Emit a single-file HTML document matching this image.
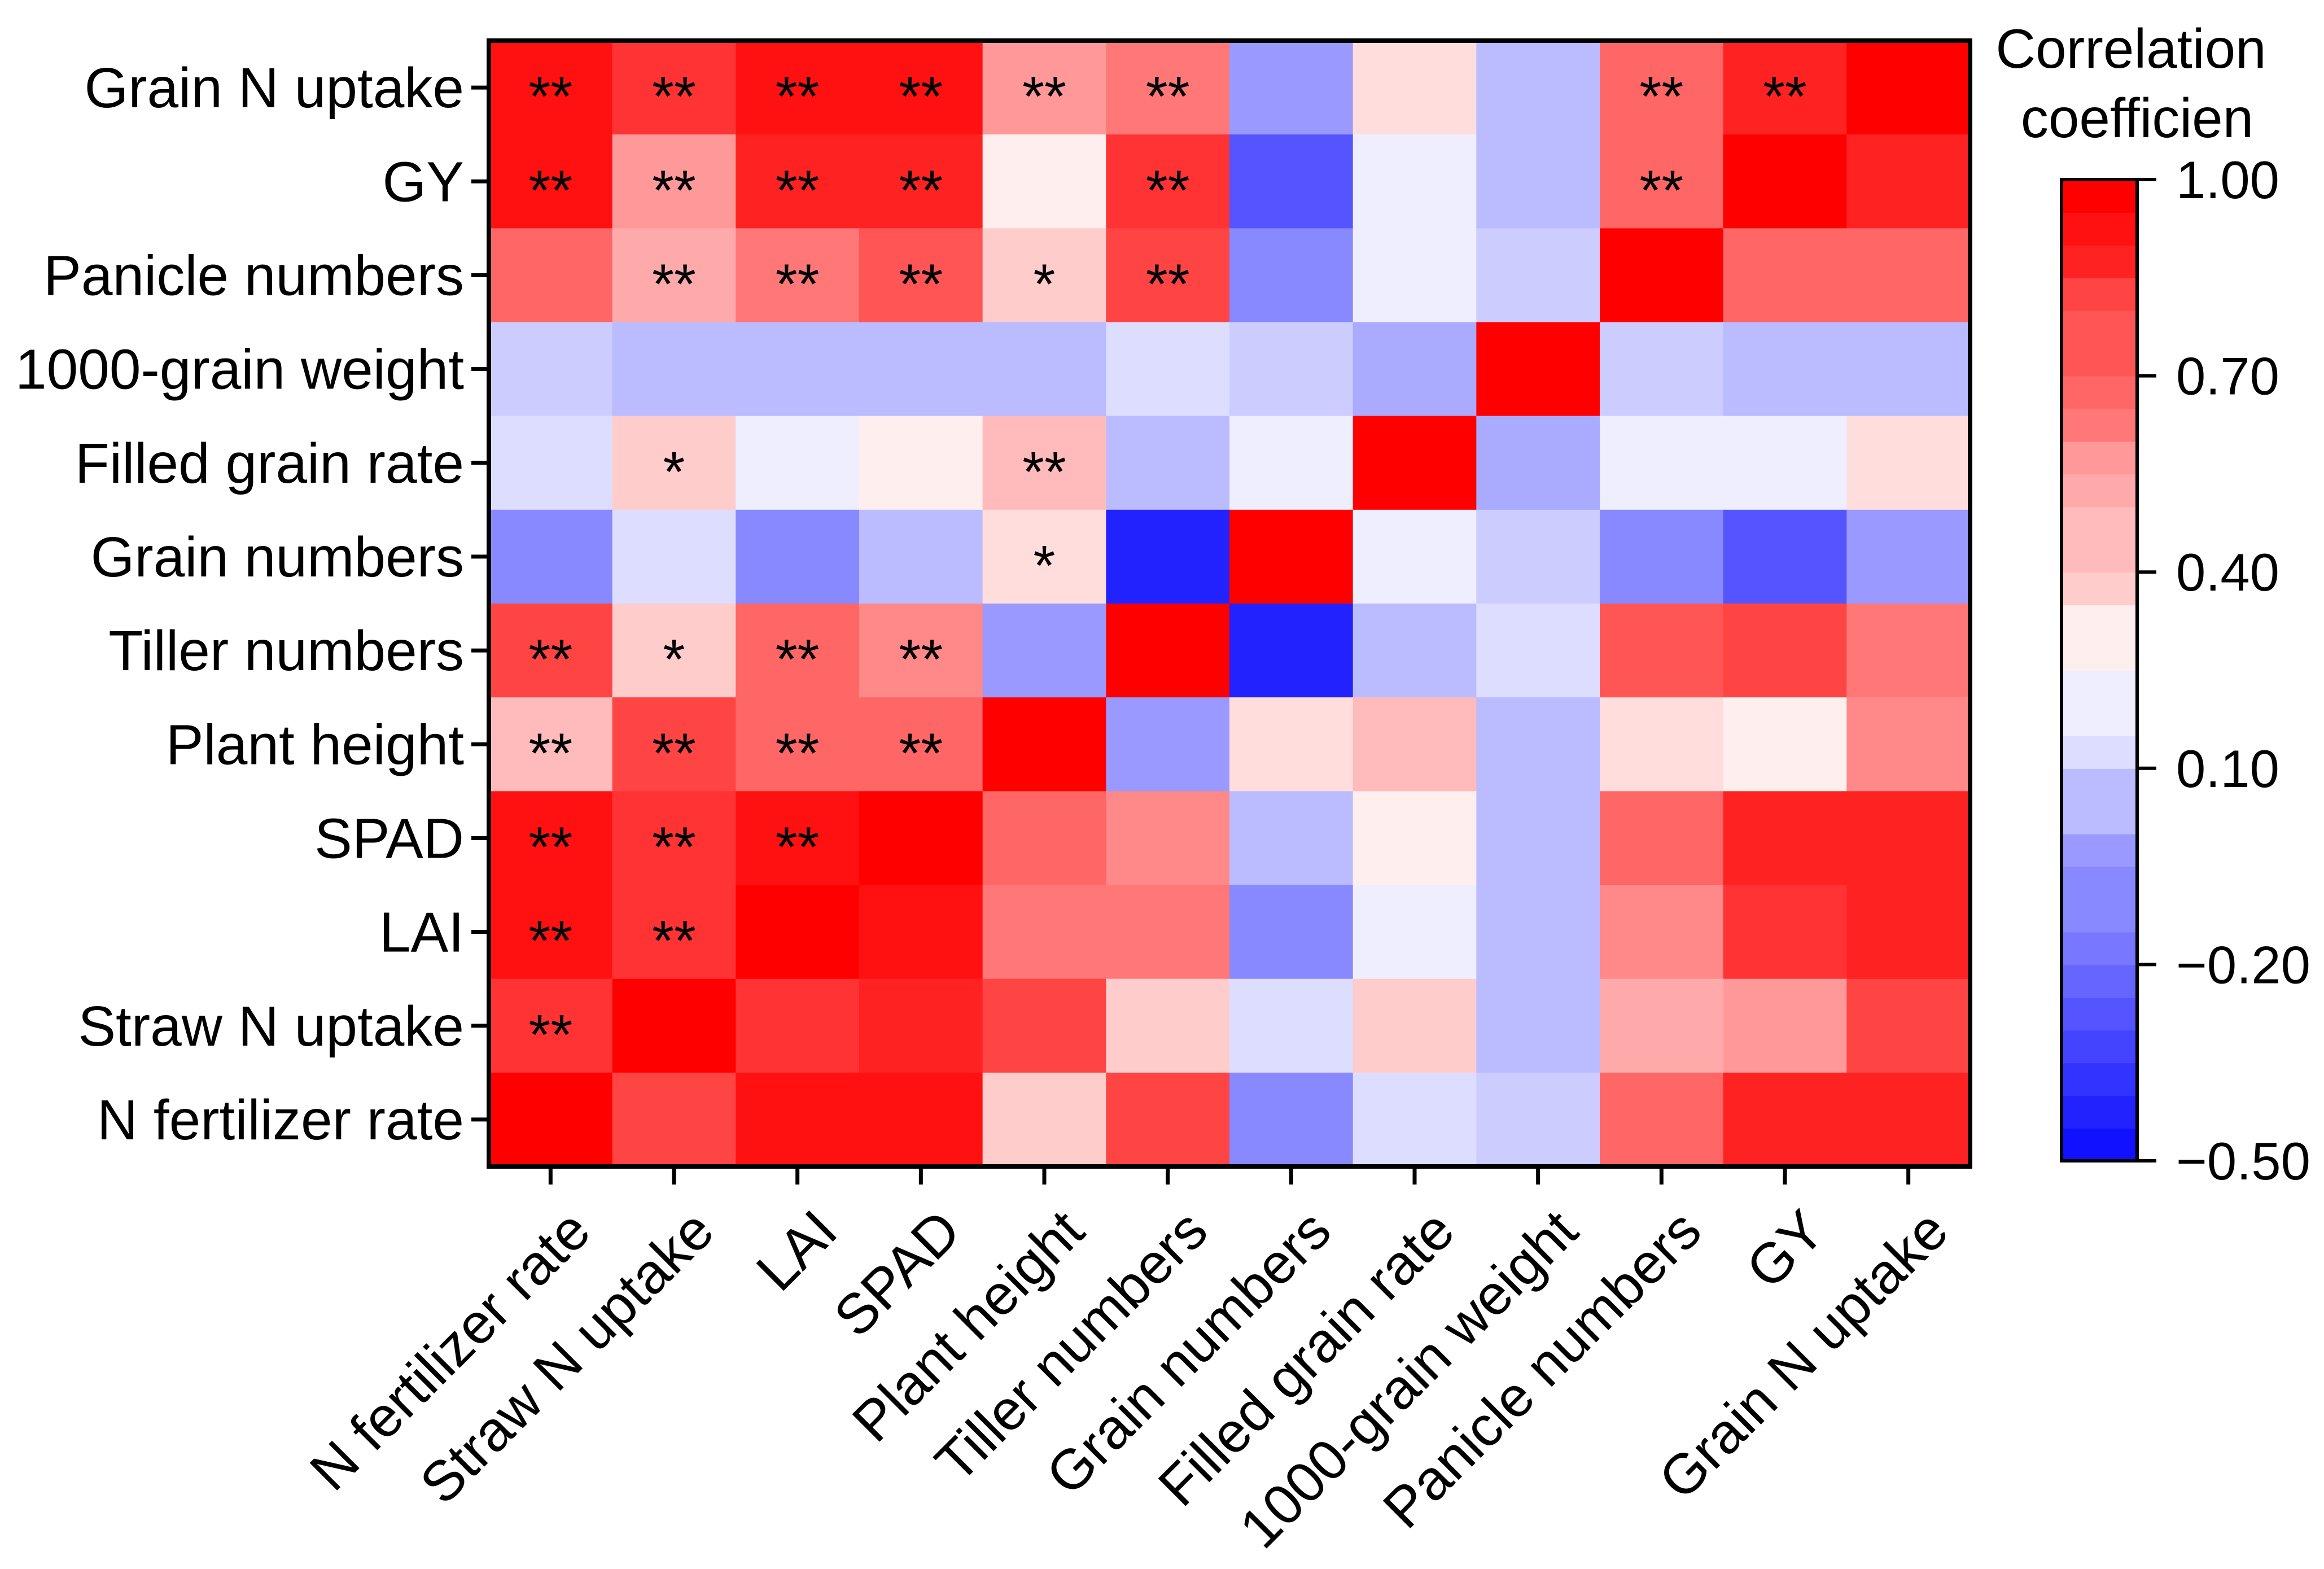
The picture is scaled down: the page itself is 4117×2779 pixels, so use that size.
<!DOCTYPE html>
<html><head><meta charset="utf-8"><style>
html,body{margin:0;padding:0;background:#fff;}
svg{display:block;font-family:"Liberation Sans",Arial,sans-serif;}
</style></head><body>
<svg id="chart" width="4117" height="2779" viewBox="0 0 4117 2779" xmlns="http://www.w3.org/2000/svg"></svg>
<script>
const rowLabels = ["Grain N uptake","GY","Panicle numbers","1000-grain weight","Filled grain rate","Grain numbers","Tiller numbers","Plant height","SPAD","LAI","Straw N uptake","N fertilizer rate"];
const colLabels = ["N fertilizer rate","Straw N uptake","LAI","SPAD","Plant height","Tiller numbers","Grain numbers","Filled grain rate","1000-grain weight","Panicle numbers","GY","Grain N uptake"];
const r0 = [0.93,0.85,0.93,0.93,0.55,0.65,-0.05,0.35,0.05,0.72,0.90,1.00];
const r1 = [0.95,0.55,0.88,0.88,0.28,0.85,-0.25,0.20,0.05,0.72,1.00,0.90];
const r2 = [0.72,0.50,0.65,0.75,0.38,0.78,-0.12,0.20,0.10,1.00,0.72,0.72];
const r3 = [0.10,0.05,0.05,0.05,0.05,0.15,0.10,-0.02,1.00,0.10,0.05,0.05];
const r4 = [0.15,0.40,0.20,0.28,0.45,0.05,0.20,1.00,-0.02,0.20,0.20,0.35];
const r5 = [-0.12,0.15,-0.12,0.05,0.35,-0.38,1.00,0.20,0.10,-0.12,-0.25,-0.05];
const r6 = [0.78,0.40,0.68,0.58,-0.05,1.00,-0.38,0.05,0.15,0.75,0.80,0.65];
const r7 = [0.45,0.78,0.68,0.72,1.00,-0.05,0.35,0.45,0.05,0.35,0.30,0.58];
const r8 = [0.95,0.85,0.93,1.00,0.72,0.58,0.05,0.28,0.05,0.72,0.88,0.92];
const r9 = [0.95,0.85,1.00,0.95,0.65,0.65,-0.12,0.20,0.05,0.62,0.85,0.92];
const r10 = [0.83,1.00,0.85,0.88,0.80,0.40,0.15,0.40,0.05,0.50,0.55,0.82];
const r11 = [1.00,0.80,0.93,0.93,0.42,0.80,-0.12,0.15,0.10,0.72,0.90,0.92];
const values = [r0,r1,r2,r3,r4,r5,r6,r7,r8,r9,r10,r11];
const s0 = ["**","**","**","**","**","**","","","","**","**",""];
const s1 = ["**","**","**","**","","**","","","","**","",""];
const s2 = ["","**","**","**","*","**","","","","","",""];
const s3 = ["","","","","","","","","","","",""];
const s4 = ["","*","","","**","","","","","","",""];
const s5 = ["","","","","*","","","","","","",""];
const s6 = ["**","*","**","**","","","","","","","",""];
const s7 = ["**","**","**","**","","","","","","","",""];
const s8 = ["**","**","**","","","","","","","","",""];
const s9 = ["**","**","","","","","","","","","",""];
const s10 = ["**","","","","","","","","","","",""];
const s11 = ["","","","","","","","","","","",""];
const stars = [s0,s1,s2,s3,s4,s5,s6,s7,s8,s9,s10,s11];
const cbTicks = [1.00,0.70,0.40,0.10,-0.20,-0.50];

const NS="http://www.w3.org/2000/svg";
const svg=document.getElementById('chart');
const L=866,R=3490,T=72,B=2066;
const cw=(R-L)/colLabels.length, rh=(B-T)/rowLabels.length;
const xPos=i=>L+i*cw, yPos=j=>T+j*rh;
const vmin=-0.5,vmax=1.0,vmid=0.25;
function color(v){
  v=Math.round(v/0.05)*0.05;
  let r,g,b;
  if(v<vmid){const t=(v-vmin)/(vmid-vmin);r=Math.round(255*t);g=r;b=255;}
  else{const t=(v-vmid)/(vmax-vmid);r=255;g=Math.round(255*(1-t));b=g;}
  return `rgb(${r},${g},${b})`;
}
function el(tag,attrs){const e=document.createElementNS(NS,tag);for(const k in attrs)e.setAttribute(k,attrs[k]);svg.appendChild(e);return e;}

values.forEach((row,j)=>row.forEach((v,i)=>{
  const c=el('rect',{x:xPos(i),y:yPos(j),width:cw+1,height:rh+1,fill:color(v)});
  
  
  const s=stars[j][i];
  if(s){
    const t=el('text',{x:xPos(i)+cw/2,y:yPos(j)+rh/2+50,'text-anchor':'middle','font-size':100,fill:'#000'});
    t.textContent=s;
    
    
  }
}));
const frame=el('rect',{x:L,y:T,width:R-L,height:B-T,fill:'none',stroke:'#000','stroke-width':8});



rowLabels.forEach((lab,j)=>{
  const y=yPos(j)+rh/2;
  el('line',{x1:835,x2:L,y1:y,y2:y,stroke:'#000','stroke-width':7});
  const t=el('text',{x:822,y:y+35,'text-anchor':'end','font-size':100,fill:'#000'});
  t.textContent=lab;
  
  
});
colLabels.forEach((lab,i)=>{
  const x=xPos(i)+cw/2;
  el('line',{x1:x,x2:x,y1:B,y2:B+32,stroke:'#000','stroke-width':7});
  const ax=x+25, ay=2135;
  const t=el('text',{x:ax,y:ay,'text-anchor':'end','font-size':100,fill:'#000',transform:`rotate(-45 ${ax} ${ay})`,'dominant-baseline':'hanging'});
  t.textContent=lab;
  
  
});

// colorbar
const CL=3652,CR=3786,CT=318,CB=2056;
const nSteps=30;
for(let k=0;k<nSteps;k++){
  const v=vmin+(k+0.5)*(vmax-vmin)/nSteps;
  const y0=CB-(k+1)*(CB-CT)/nSteps;
  const r=el('rect',{x:CL,y:y0,width:CR-CL,height:(CB-CT)/nSteps+1,fill:color(v)});
  
  
}
const cbf=el('rect',{x:CL,y:CT,width:CR-CL,height:CB-CT,fill:'none',stroke:'#000','stroke-width':6});


cbTicks.forEach(v=>{
  const y=CB-(v-vmin)/(vmax-vmin)*(CB-CT);
  el('line',{x1:CR,x2:CR+34,y1:y,y2:y,stroke:'#000','stroke-width':6});
  const t=el('text',{x:3855,y:y+33,'font-size':94,fill:'#000'});
  t.textContent=(v<0?'\u2212':'')+Math.abs(v).toFixed(2);
  
  
});
const t1=el('text',{x:3775,y:120,'text-anchor':'middle','font-size':98,fill:'#000'});
t1.textContent='Correlation';


const t2=el('text',{x:3786,y:243,'text-anchor':'middle','font-size':98,fill:'#000'});
t2.textContent='coefficien';


</script>
</body></html>
